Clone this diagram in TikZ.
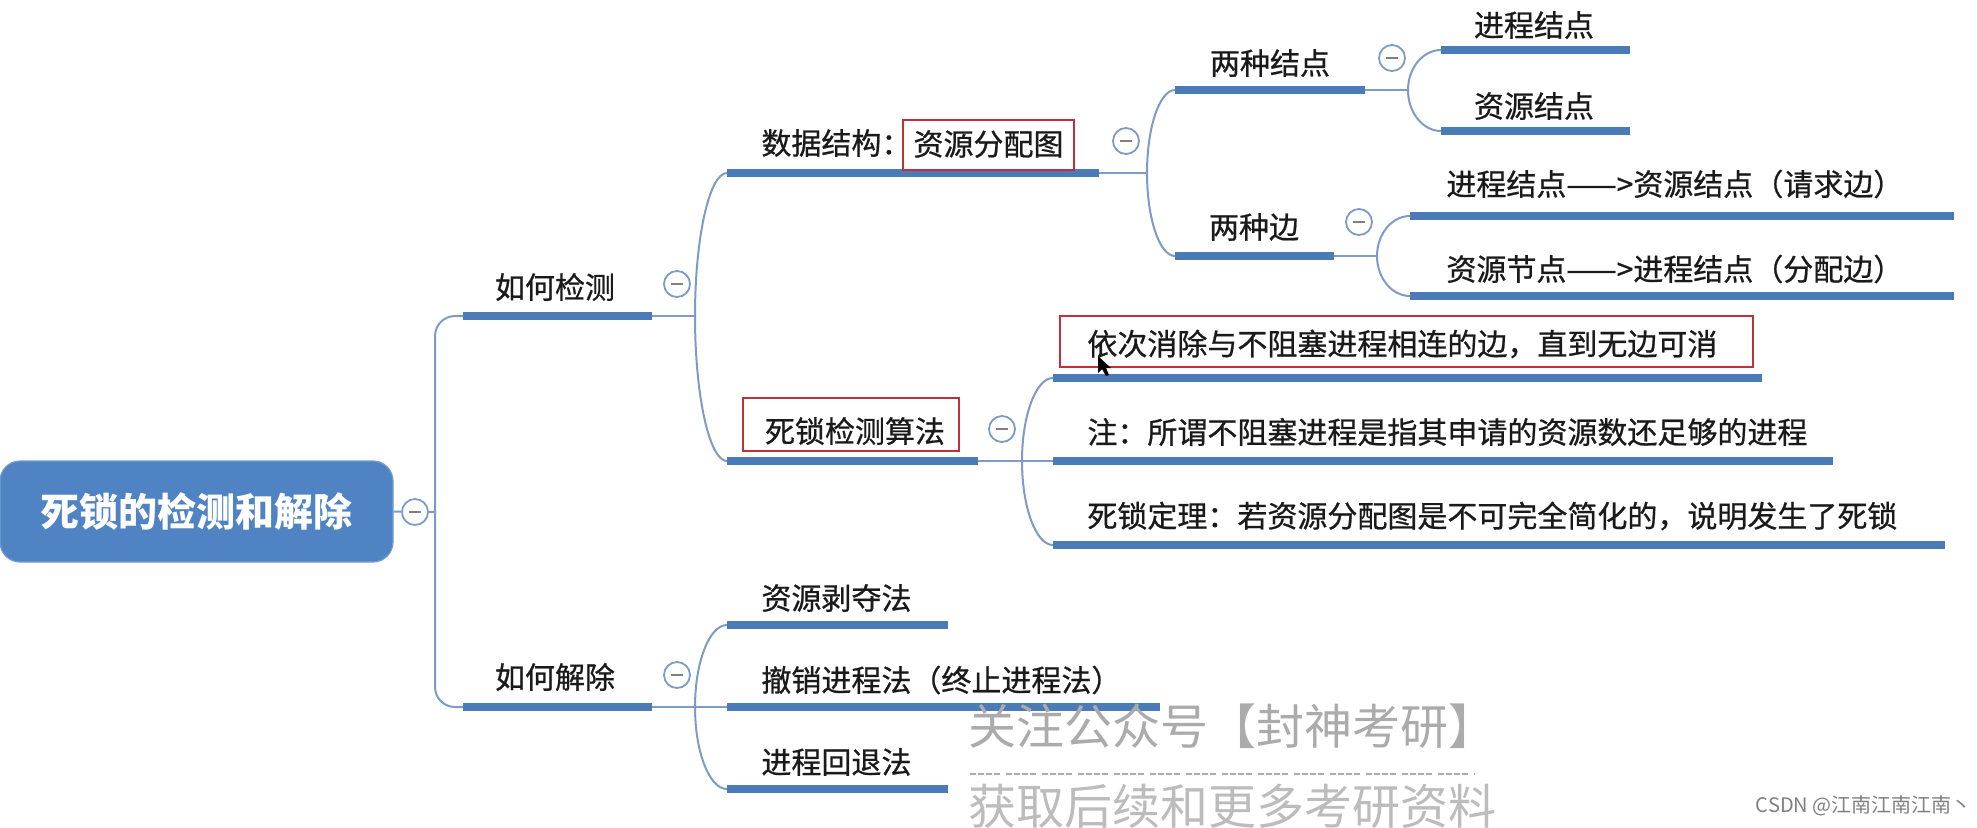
\documentclass[tikz,border=0pt]{standalone}
\usepackage{fontspec}
\setmainfont{Noto Sans CJK SC}
\newfontfamily\medfont{Noto Sans CJK SC}[FakeBold=0.7]
\usetikzlibrary{calc}
\definecolor{barc}{HTML}{4A7BB7}
\definecolor{thinc}{HTML}{7E9BC8}
\definecolor{rootc}{HTML}{5083C4}
\definecolor{redbox}{HTML}{C0303C}
\definecolor{txt}{HTML}{1A1A1A}
\definecolor{wm}{HTML}{ABABAB}
\tikzset{
  barline/.style={draw=barc, line width=4pt},
  conn/.style={draw=thinc, line width=1pt},
  lbl/.style={inner sep=0pt, text=txt, font=\medfont\fontsize{15}{18}\selectfont},
  collapse/.style={circle, draw=thinc, line width=0.9pt, fill=white, minimum size=13pt, inner sep=0pt,
    path picture={\draw[gray, line width=0.8pt] ($(path picture bounding box.center)+(-3pt,0)$) -- ($(path picture bounding box.center)+(3pt,0)$);}},
  hl/.style={draw=redbox, line width=1.1pt, inner sep=0pt},
  rootbox/.style={rectangle, rounded corners=10pt, fill=rootc, draw=rootc!80!white, line width=0.6pt,
    minimum width=196.5pt, minimum height=50.5pt, text=white, font=\fontsize{19.5}{22}\selectfont\bfseries},
  wmtext/.style={inner sep=0pt, text=wm, font=\fontsize{24}{28}\selectfont},
}
\newcommand{\mmbar}[4]{\coordinate (#1-s) at (#2,#4); \coordinate (#1-e) at (#3,#4); \draw[barline] (#1-s) -- (#1-e);}
\newcommand{\mmcurve}[2]{\draw[conn] (#1) .. controls ($(#1)!0.55!(#1 |- #2)$) and ($(#2)!0.55!(#1 |- #2)$) .. (#2);}
\begin{document}
\begin{tikzpicture}[x=0.5pt, y=-0.5pt]
\useasboundingbox (0,0) rectangle (1977,827);
\fill[white] (0,0) rectangle (1977,827);

% root
\node[rootbox] (root) at (196.5,511.5) {死锁的检测和解除};
\coordinate (trunk) at (435,512);
\draw[conn] (root.east) -- (trunk);
\node[collapse] (root-c) at (415,512) {};

% level 1 bars
\mmbar{det}{463}{652}{316}
\mmbar{rel}{463}{652}{707}
\draw[conn, rounded corners=10pt] (trunk) |- (det-s);
\draw[conn, rounded corners=10pt] (trunk) |- (rel-s);
\node[lbl] (det) at (555,287) {如何检测};
\node[lbl] (rel) at (555,677) {如何解除};
\coordinate (det-b) at (695,316);
\coordinate (rel-b) at (695,707);
\draw[conn] (det-e) -- (det-b);
\draw[conn] (rel-e) -- (rel-b);
\node[collapse] (det-c) at (677,284) {};
\node[collapse] (rel-c) at (677,675) {};

% level 2 under detection
\mmbar{ds}{727}{1099}{173}
\mmbar{alg}{727}{978}{461}
\mmcurve{det-b}{ds-s}
\mmcurve{det-b}{alg-s}
\node[lbl, anchor=west] (ds) at (761,143) {数据结构：};
\node[hl, minimum width=85.5pt, minimum height=25pt] (dsbox) at (988.5,145) {};
\node[lbl] (ds2) at (988.5,144) {资源分配图};
\node[hl, minimum width=108pt, minimum height=26.5pt] (algbox) at (851,424.5) {};
\node[lbl] (alg) at (855,431) {死锁检测算法};
\coordinate (ds-b) at (1147,173);
\coordinate (alg-b) at (1022,461);
\draw[conn] (ds-e) -- (ds-b);
\draw[conn] (alg-e) -- (alg-b);
\node[collapse] (ds-c) at (1126,141) {};
\node[collapse] (alg-c) at (1002,429) {};

% level 3 under data structure
\mmbar{n}{1175}{1365}{90}
\mmbar{e}{1175}{1334}{256}
\mmcurve{ds-b}{n-s}
\mmcurve{ds-b}{e-s}
\node[lbl] (n) at (1270,63) {两种结点};
\node[lbl] (e) at (1254,227) {两种边};
\coordinate (n-b) at (1408,90);
\coordinate (e-b) at (1377,256);
\draw[conn] (n-e) -- (n-b);
\draw[conn] (e-e) -- (e-b);
\node[collapse] (n-c) at (1392,58) {};
\node[collapse] (e-c) at (1359,222) {};

% level 4
\mmbar{n1}{1441}{1630}{50}
\mmbar{n2}{1441}{1630}{131}
\mmcurve{n-b}{n1-s}
\mmcurve{n-b}{n2-s}
\node[lbl] (n1) at (1534,25) {进程结点};
\node[lbl] (n2) at (1534,106) {资源结点};
\mmbar{e1}{1410}{1954}{216}
\mmbar{e2}{1410}{1954}{296}
\mmcurve{e-b}{e1-s}
\mmcurve{e-b}{e2-s}
\node[lbl, anchor=west] (e1) at (1446,184) {进程结点——>资源结点（请求边）};
\node[lbl, anchor=west] (e2) at (1446,269) {资源节点——>进程结点（分配边）};

% level 3 under algorithm
\mmbar{a1}{1053}{1762}{378}
\mmbar{a2}{1053}{1833}{461}
\mmbar{a3}{1053}{1945}{545}
\mmcurve{alg-b}{a1-s}
\draw[conn] (alg-b) -- (a2-s);
\mmcurve{alg-b}{a3-s}
\node[hl, minimum width=346.5pt, minimum height=25.5pt] (a1box) at (1406.5,341.5) {};
\node[lbl, anchor=west] (a1) at (1087,344) {依次消除与不阻塞进程相连的边，直到无边可消};
\node[lbl, anchor=west] (a2) at (1087,432) {注：所谓不阻塞进程是指其申请的资源数还足够的进程};
\node[lbl, anchor=west] (a3) at (1087,516) {死锁定理：若资源分配图是不可完全简化的，说明发生了死锁};

% mouse pointer
\fill[black] (1098,356) -- (1098,373) -- (1102,369) -- (1106,376) -- (1109,375) -- (1106,368) -- (1111,368) -- cycle;

% level 2 under release
\mmbar{r1}{727}{948}{625}
\mmbar{r2}{727}{1160}{707}
\mmbar{r3}{727}{948}{789}
\mmcurve{rel-b}{r1-s}
\draw[conn] (rel-b) -- (r2-s);
\mmcurve{rel-b}{r3-s}
\node[lbl, anchor=west] (r1) at (761,598) {资源剥夺法};
\node[lbl, anchor=west] (r2) at (761,680) {撤销进程法（终止进程法）};
\node[lbl, anchor=west] (r3) at (761,762) {进程回退法};

% watermark
\node[wmtext, anchor=west] (wm1) at (968,726) {关注公众号【封神考研】};
\coordinate (wmd-s) at (970,774);
\coordinate (wmd-e) at (1475,774);
\draw[wm, line width=0.7pt, dash pattern=on 3pt off 1pt on 3pt off 1pt on 3pt off 1pt on 3pt off 3pt] (wmd-s) -- (wmd-e);
\node[wmtext, anchor=west, text=wm!80!white] (wm2) at (968,806) {获取后续和更多考研资料};
\node[inner sep=0pt, anchor=east, text=gray, font=\fontsize{10}{12}\selectfont] (csdn) at (1972,806) {CSDN @江南江南江南丶};
\end{tikzpicture}
\end{document}
